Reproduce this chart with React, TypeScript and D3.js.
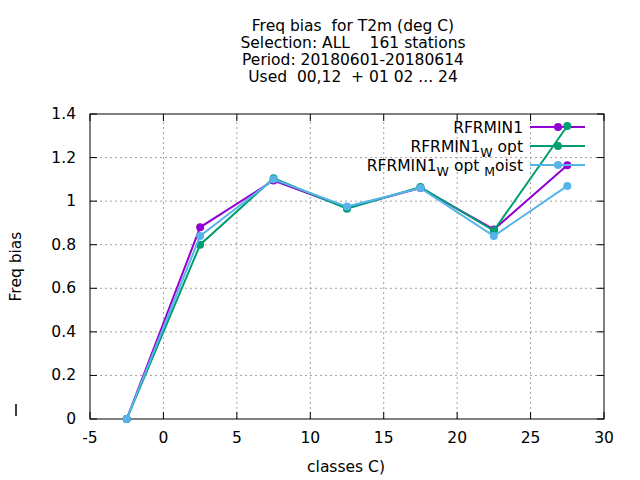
import React from 'react';
import * as d3 from 'd3';

// classes (bin centres)
const classes = [-2.5, 2.5, 7.5, 12.5, 17.5, 22.5, 27.5];
const rfrmin1 = [0, 0.88, 1.095, 0.97, 1.06, 0.87, 1.165];
const rfrmin1Wopt = [0, 0.80, 1.105, 0.965, 1.065, 0.865, 1.345];
const rfrmin1WoptMoist = [0, 0.84, 1.10, 0.975, 1.06, 0.84, 1.07];
const xTicks = [-5, 0, 5, 10, 15, 20, 25, 30];
const yTicks = [0, 0.2, 0.4, 0.6, 0.8, 1, 1.2, 1.4];
const titleLines = ['Freq bias  for T2m (deg C)', 'Selection: ALL    161 stations', 'Period: 20180601-20180614', 'Used  00,12  + 01 02 ... 24'];

const series = [
  { name: 'RFRMIN1', sub: [] as string[], values: rfrmin1, color: '#9400d3' },
  { name: 'RFRMIN1', sub: ['W', ' opt'], values: rfrmin1Wopt, color: '#009e73' },
  { name: 'RFRMIN1', sub: ['W', ' opt ', 'M', 'oist'], values: rfrmin1WoptMoist, color: '#56b4e9' },
];

export default function App() {
  const width = 640, height = 480;
  const m = { left: 90, right: 36, top: 114, bottom: 61 };
  const x = d3.scaleLinear().domain([-5, 30]).range([m.left, width - m.right]);
  const y = d3.scaleLinear().domain([0, 1.4]).range([height - m.bottom, m.top]);
  const line = d3.line<number>().x((_, i) => x(classes[i])).y(d => y(d));
  const font = 'DejaVu Sans, sans-serif';
  const x0 = m.left, x1 = width - m.right, y0 = height - m.bottom, y1 = m.top;

  return (
    <svg width={width} height={height} style={{ position: 'absolute', left: 0, top: 0, background: '#fff' }} fontFamily={font} fontSize={15.5}>
      <rect width={width} height={height} fill="#fff" />
      {titleLines.map((t, i) => (
        <text key={i} x={353} y={31 + i * 17} textAnchor="middle" style={{ whiteSpace: 'pre' }}>{t}</text>
      ))}
      {/* grid */}
      {xTicks.slice(1, -1).map(t => (
        <line key={'gx' + t} x1={x(t)} x2={x(t)} y1={y0} y2={y1} stroke="#a0a0a0" strokeDasharray="2,3" />
      ))}
      {yTicks.slice(1, -1).map(t => (
        <line key={'gy' + t} x1={x0} x2={x1} y1={y(t)} y2={y(t)} stroke="#a0a0a0" strokeDasharray="2,3" />
      ))}
      {/* ticks */}
      {xTicks.map(t => (
        <g key={'tx' + t}>
          <line x1={x(t)} x2={x(t)} y1={y0} y2={y0 - 7} stroke="#000" />
          <line x1={x(t)} x2={x(t)} y1={y1} y2={y1 + 7} stroke="#000" />
          <text x={x(t)} y={y0 + 24} textAnchor="middle">{t}</text>
        </g>
      ))}
      {yTicks.map(t => (
        <g key={'ty' + t}>
          <line x1={x0} x2={x0 + 7} y1={y(t)} y2={y(t)} stroke="#000" />
          <line x1={x1} x2={x1 - 7} y1={y(t)} y2={y(t)} stroke="#000" />
          <text x={x0 - 14} y={y(t) + 5} textAnchor="end">{t}</text>
        </g>
      ))}
      <rect x={x0} y={y1} width={x1 - x0} height={y0 - y1} fill="none" stroke="#000" />
      <text x={346} y={472} textAnchor="middle">classes C)</text>
      <text transform={`translate(21,${(y0 + y1) / 2}) rotate(-90)`} textAnchor="middle">Freq bias</text>
      <line x1={16} x2={16} y1={404} y2={416} stroke="#000" strokeWidth={1.5} />
      {series.map((s, k) => (
        <g key={k}>
          <path d={line(s.values) ?? ''} fill="none" stroke={s.color} strokeWidth={2} />
          {s.values.map((v, i) => (
            <circle key={i} cx={x(classes[i])} cy={y(v)} r={4} fill={s.color} />
          ))}
          <line x1={530} x2={585} y1={127 + k * 19} y2={127 + k * 19} stroke={s.color} strokeWidth={2} />
          <circle cx={558} cy={127 + k * 19} r={4} fill={s.color} />
          <text x={523} y={133 + k * 19} textAnchor="end" style={{ whiteSpace: 'pre' }}>
            {s.name}
            {s.sub.map((p, j) => (
              <tspan key={j} dy={j % 2 === 0 ? 5 : -5} fontSize={j % 2 === 0 ? 12.5 : 15.5}>{p}</tspan>
            ))}
          </text>
        </g>
      ))}
    </svg>
  );
}
